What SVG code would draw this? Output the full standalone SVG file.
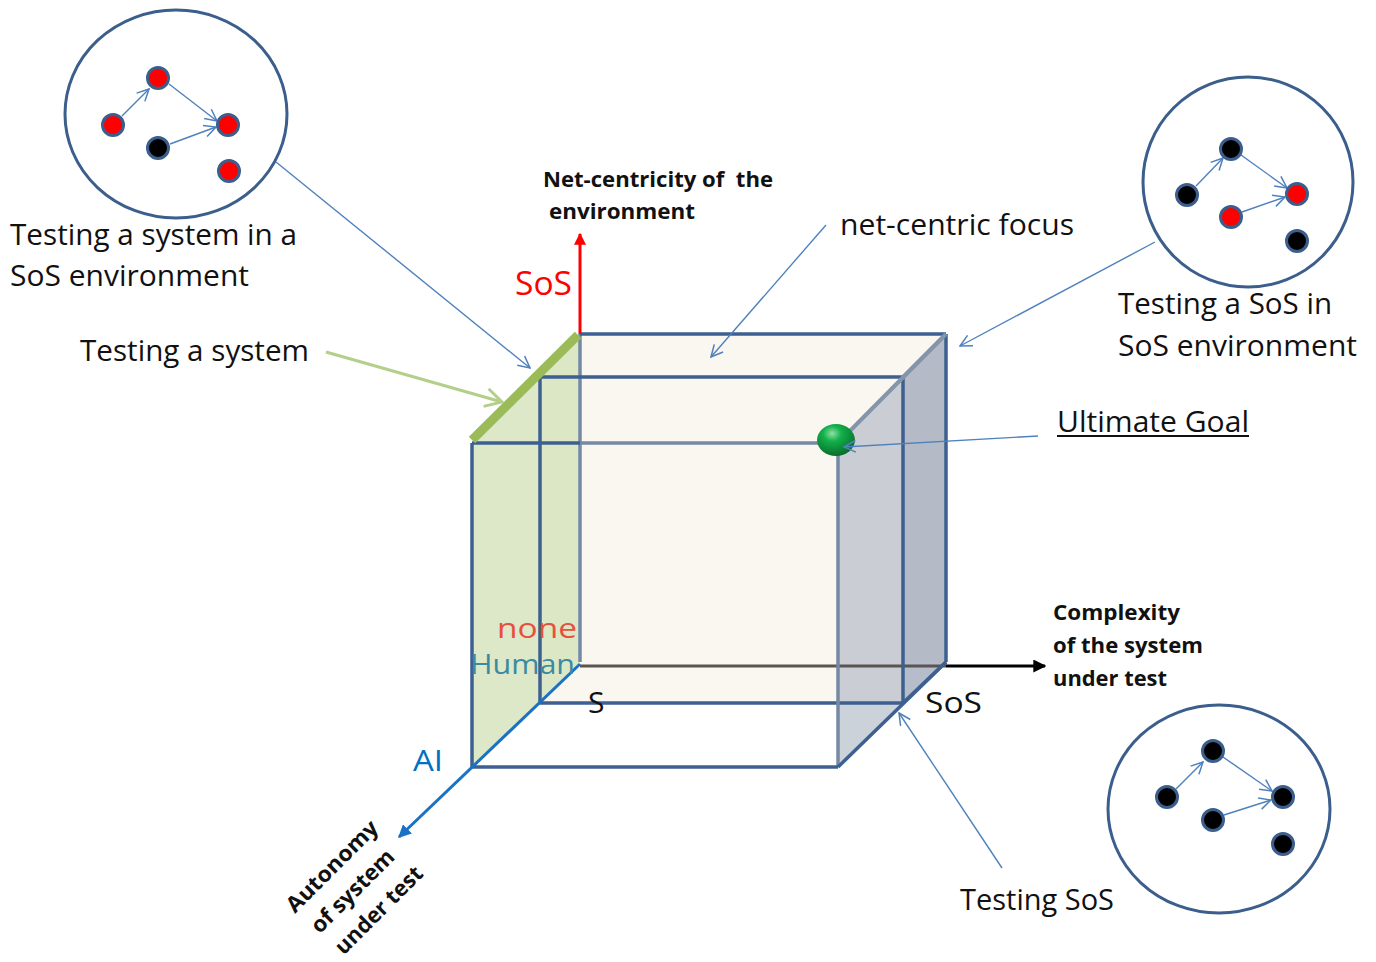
<svg xmlns="http://www.w3.org/2000/svg" width="1376" height="962" viewBox="0 0 1376 962">
<style>
.t{font-family:"Open Sans","Liberation Sans",sans-serif;fill:#111;}
.b{font-family:"Open Sans","Liberation Sans",sans-serif;font-weight:bold;fill:#111;}
.edge{stroke:#3d6091;stroke-width:3.5;fill:none;stroke-linejoin:round;}
.soft{stroke:#7589a5;stroke-width:3.5;fill:none;}
.conn{stroke:#4f81bd;stroke-width:1.4;fill:none;}
.ring{fill:#fff;stroke:#3b5e8c;stroke-width:3;}
.nr{fill:#ff0000;stroke:#3b5e8c;stroke-width:3;}
.nk{fill:#000;stroke:#3b5e8c;stroke-width:3;}
</style>
<defs>
<marker id="open" viewBox="0 0 12 12" refX="11" refY="6" markerWidth="14" markerHeight="14" markerUnits="userSpaceOnUse" orient="auto">
<path d="M1,1 L11,6 L1,11" fill="none" stroke="#4f81bd" stroke-width="1.3"/>
</marker>
<marker id="openG" viewBox="0 0 12 12" refX="10" refY="6" markerWidth="22" markerHeight="22" markerUnits="userSpaceOnUse" orient="auto">
<path d="M1,1 L10,6 L1,11" fill="none" stroke="#b3cf8a" stroke-width="1.6"/>
</marker>
<marker id="redA" viewBox="0 0 10 10" refX="9" refY="5" markerWidth="12" markerHeight="12" markerUnits="userSpaceOnUse" orient="auto">
<path d="M0,0 L10,5 L0,10 Z" fill="#ff0000"/>
</marker>
<marker id="blkA" viewBox="0 0 10 10" refX="9" refY="5" markerWidth="13" markerHeight="13" markerUnits="userSpaceOnUse" orient="auto">
<path d="M0,0 L10,5 L0,10 Z" fill="#000"/>
</marker>
<marker id="bluA" viewBox="0 0 10 10" refX="9" refY="5" markerWidth="13" markerHeight="13" markerUnits="userSpaceOnUse" orient="auto">
<path d="M0,0 L10,5 L0,10 Z" fill="#1a72c4"/>
</marker>
<radialGradient id="sph" cx="0.4" cy="0.3" r="0.7">
<stop offset="0" stop-color="#8fe0a4"/>
<stop offset="0.35" stop-color="#12b04a"/>
<stop offset="1" stop-color="#0a6e2c"/>
</radialGradient>
</defs>

<g id="cube">
<rect x="580" y="334" width="366" height="328" fill="#faf6f0"/>
<rect x="540" y="377" width="363" height="326" fill="#faf6f0"/>
<polygon points="580,334 946,334 903,377 540,377" fill="#faf6f0"/>
<polygon points="472,443 580,334 580,662 472,767" fill="#d6e4bd" opacity="0.85"/>
<polygon points="838,443 946,334 946,662 838,767" fill="#aab4c2" opacity="0.6"/>
<polygon points="903,377 946,334 946,662 903,703" fill="#9aa5b5" opacity="0.45"/>
<line x1="580" y1="334" x2="580" y2="662" class="soft"/>
<line x1="580" y1="666" x2="946" y2="666" stroke="#5a5550" stroke-width="3"/>
<line x1="580" y1="334" x2="946" y2="334" class="edge"/>
<line x1="946" y1="334" x2="946" y2="662" class="edge"/>
<rect x="540" y="377" width="363" height="326" class="edge"/>
<line x1="903" y1="377" x2="946" y2="334" class="edge"/>
<line x1="903" y1="703" x2="946" y2="662" class="edge"/>
<line x1="580" y1="443" x2="838" y2="443" class="soft"/>
<line x1="472" y1="443" x2="580" y2="443" class="edge"/>
<line x1="838" y1="443" x2="946" y2="334" stroke="#8494aa" stroke-width="4"/>
<line x1="838" y1="443" x2="838" y2="767" class="soft"/>
<line x1="472" y1="443" x2="472" y2="767" class="edge"/>
<line x1="472" y1="767" x2="838" y2="767" class="edge"/>
<line x1="838" y1="767" x2="946" y2="662" class="edge"/>
<line x1="472" y1="440" x2="578" y2="335" stroke="#9bbb59" stroke-width="9"/>
<ellipse cx="836" cy="440" rx="19" ry="16" fill="url(#sph)"/>
</g>

<g id="axes">
<line x1="580" y1="334" x2="580" y2="234" stroke="#ff0000" stroke-width="3" marker-end="url(#redA)"/>
<line x1="946" y1="666" x2="1045" y2="666" stroke="#000" stroke-width="3" marker-end="url(#blkA)"/>
<line x1="580" y1="664" x2="399" y2="837" stroke="#1a72c4" stroke-width="3" marker-end="url(#bluA)"/>
</g>

<g id="circle-top-left">
<ellipse cx="176" cy="114" rx="111" ry="104" class="ring"/>
<line x1="122" y1="116" x2="149" y2="89" class="conn" marker-end="url(#open)"/>
<line x1="169" y1="84" x2="217" y2="121" class="conn" marker-end="url(#open)"/>
<line x1="170" y1="144" x2="216" y2="127" class="conn" marker-end="url(#open)"/>
<circle cx="158" cy="78" r="10.5" class="nr"/>
<circle cx="113" cy="125" r="10.5" class="nr"/>
<circle cx="228" cy="125" r="10.5" class="nr"/>
<circle cx="229" cy="171" r="10.5" class="nr"/>
<circle cx="158" cy="148" r="10.5" class="nk"/>
</g>

<g id="circle-top-right">
<ellipse cx="1248" cy="182" rx="105" ry="105" class="ring"/>
<line x1="1196" y1="186" x2="1223" y2="158" class="conn" marker-end="url(#open)"/>
<line x1="1241" y1="155" x2="1287" y2="188" class="conn" marker-end="url(#open)"/>
<line x1="1242" y1="212" x2="1285" y2="197" class="conn" marker-end="url(#open)"/>
<circle cx="1231" cy="149" r="10.5" class="nk"/>
<circle cx="1187" cy="195" r="10.5" class="nk"/>
<circle cx="1297" cy="194" r="10.5" class="nr"/>
<circle cx="1231" cy="217" r="10.5" class="nr"/>
<circle cx="1297" cy="241" r="10.5" class="nk"/>
</g>

<g id="circle-bottom-right">
<ellipse cx="1219" cy="809" rx="111" ry="104" class="ring"/>
<line x1="1176" y1="789" x2="1203" y2="762" class="conn" marker-end="url(#open)"/>
<line x1="1223" y1="757" x2="1272" y2="791" class="conn" marker-end="url(#open)"/>
<line x1="1224" y1="815" x2="1271" y2="800" class="conn" marker-end="url(#open)"/>
<circle cx="1213" cy="751" r="10.5" class="nk"/>
<circle cx="1167" cy="797" r="10.5" class="nk"/>
<circle cx="1283" cy="797" r="10.5" class="nk"/>
<circle cx="1213" cy="820" r="10.5" class="nk"/>
<circle cx="1283" cy="844" r="10.5" class="nk"/>
</g>

<g id="connectors">
<line x1="276" y1="162" x2="530" y2="368" class="conn" marker-end="url(#open)"/>
<line x1="826" y1="225" x2="711" y2="357" class="conn" marker-end="url(#open)"/>
<line x1="1155" y1="242" x2="960" y2="346" class="conn" marker-end="url(#open)"/>
<line x1="1038" y1="436" x2="844" y2="447" class="conn" marker-end="url(#open)"/>
<line x1="1002" y1="868" x2="899" y2="713" class="conn" marker-end="url(#open)"/>
<line x1="326" y1="352" x2="502" y2="402" stroke="#b3cf8a" stroke-width="3" marker-end="url(#openG)"/>
</g>

<g id="labels">
<text class="b" x="543" y="187" font-size="22" xml:space="preserve" textLength="230" lengthAdjust="spacingAndGlyphs">Net-centricity of  the</text>
<text class="b" x="549" y="219" font-size="22" textLength="146" lengthAdjust="spacingAndGlyphs">environment</text>
<text class="t" x="515" y="295" font-size="32" style="fill:#ff0000" textLength="57" lengthAdjust="spacingAndGlyphs">SoS</text>
<text class="t" x="840" y="235" font-size="30" textLength="234" lengthAdjust="spacingAndGlyphs">net-centric focus</text>
<text class="t" x="10" y="245" font-size="29" textLength="287" lengthAdjust="spacingAndGlyphs">Testing a system in a</text>
<text class="t" x="10" y="286" font-size="29" textLength="239" lengthAdjust="spacingAndGlyphs">SoS environment</text>
<text class="t" x="80" y="361" font-size="29" textLength="229" lengthAdjust="spacingAndGlyphs">Testing a system</text>
<text class="t" x="1118" y="314" font-size="29" textLength="214" lengthAdjust="spacingAndGlyphs">Testing a SoS in</text>
<text class="t" x="1118" y="356" font-size="29" textLength="239" lengthAdjust="spacingAndGlyphs">SoS environment</text>
<text class="t" x="1057" y="432" font-size="30" textLength="192" lengthAdjust="spacingAndGlyphs">Ultimate Goal</text>
<line x1="1057" y1="436" x2="1249" y2="436" stroke="#111" stroke-width="2"/>
<text class="b" x="1053" y="620" font-size="22" textLength="127" lengthAdjust="spacingAndGlyphs">Complexity</text>
<text class="b" x="1053" y="653" font-size="22" textLength="150" lengthAdjust="spacingAndGlyphs">of the system</text>
<text class="b" x="1053" y="686" font-size="22" textLength="114" lengthAdjust="spacingAndGlyphs">under test</text>
<text class="t" x="925" y="713" font-size="30" textLength="57" lengthAdjust="spacingAndGlyphs">SoS</text>
<text class="t" x="588" y="713" font-size="30">S</text>
<text class="t" x="497" y="638" font-size="28" style="fill:#e8503e" textLength="80" lengthAdjust="spacingAndGlyphs">none</text>
<text class="t" x="470" y="674" font-size="28" style="fill:#3a8aa0" textLength="105" lengthAdjust="spacingAndGlyphs">Human</text>
<text class="t" x="413" y="771" font-size="30" style="fill:#0070c0" textLength="30" lengthAdjust="spacingAndGlyphs">AI</text>
<text class="t" x="960" y="910" font-size="30" textLength="154" lengthAdjust="spacingAndGlyphs">Testing SoS</text>
<g transform="translate(295,914) rotate(-45)">
<text class="b" x="0" y="0" font-size="22" textLength="120" lengthAdjust="spacingAndGlyphs">Autonomy</text>
<text class="b" x="3" y="32" font-size="22" textLength="108" lengthAdjust="spacingAndGlyphs">of system</text>
<text class="b" x="5" y="64" font-size="22" textLength="114" lengthAdjust="spacingAndGlyphs">under test</text>
</g>
</g>
</svg>
